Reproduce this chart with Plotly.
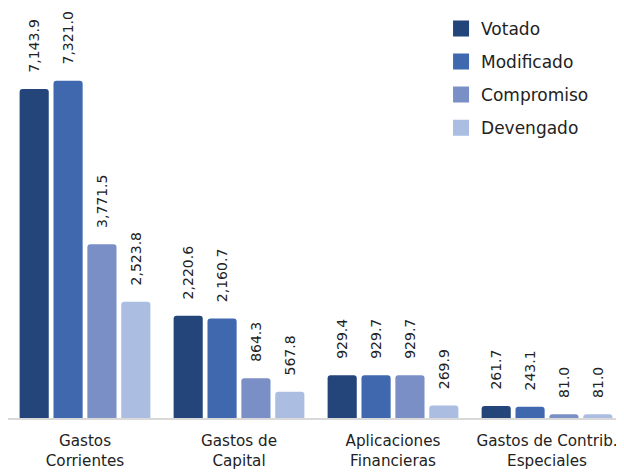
import plotly.graph_objects as go

categories = ["Gastos<br>Corrientes", "Gastos de<br>Capital", "Aplicaciones<br>Financieras", "Gastos de Contrib.<br>Especiales"]
series_names = ["Votado", "Modificado", "Compromiso", "Devengado"]
votado = [7143.9, 2220.6, 929.4, 261.7]
modificado = [7321.0, 2160.7, 929.7, 243.1]
compromiso = [3771.5, 864.3, 929.7, 81.0]
devengado = [2523.8, 567.8, 269.9, 81.0]
colors = ["#234579", "#3f68ae", "#7a8fc6", "#abbde0"]

FONT = "DejaVu Sans, sans-serif"

fig = go.Figure()
for name, vals, col in zip(series_names, [votado, modificado, compromiso, devengado], colors):
    fig.add_trace(go.Bar(
        x=categories, y=vals, name=name,
        marker=dict(color=col, cornerradius=3, line=dict(width=0)),
        text=["\u00a0\u00a0\u00a0" + f"{v:,.1f}" for v in vals],
        textposition="outside", textangle=-90, constraintext="none", cliponaxis=False,
        textfont=dict(family=FONT, size=14, color="#222222"),
        showlegend=False,
    ))
    fig.add_trace(go.Scatter(
        x=[None], y=[None], mode="markers", name=name, legendgroup=name,
        marker=dict(symbol="square", size=17, color=col),
    ))

fig.update_layout(
    width=616, height=465,
    margin=dict(l=0, r=0, t=0, b=55),
    plot_bgcolor="white", paper_bgcolor="white",
    barmode="group", bargap=0.12, bargroupgap=0.14,
    showlegend=True,
    legend=dict(x=0.703, y=0.993, xanchor="left", yanchor="top",
                font=dict(family=FONT, size=17, color="#222222"),
                tracegroupgap=8, bgcolor="rgba(0,0,0,0)", traceorder="grouped"),
    font=dict(family=FONT, color="#222222"),
)
fig.update_xaxes(showline=True, linecolor="#d9d9d9", linewidth=2, ticks="",
                 ticklabelstandoff=8,
                 tickfont=dict(family=FONT, size=15.2, color="#222222"), showgrid=False)
fig.update_yaxes(range=[0, 8903], visible=False, showgrid=False)
fig.write_html("out.html")
